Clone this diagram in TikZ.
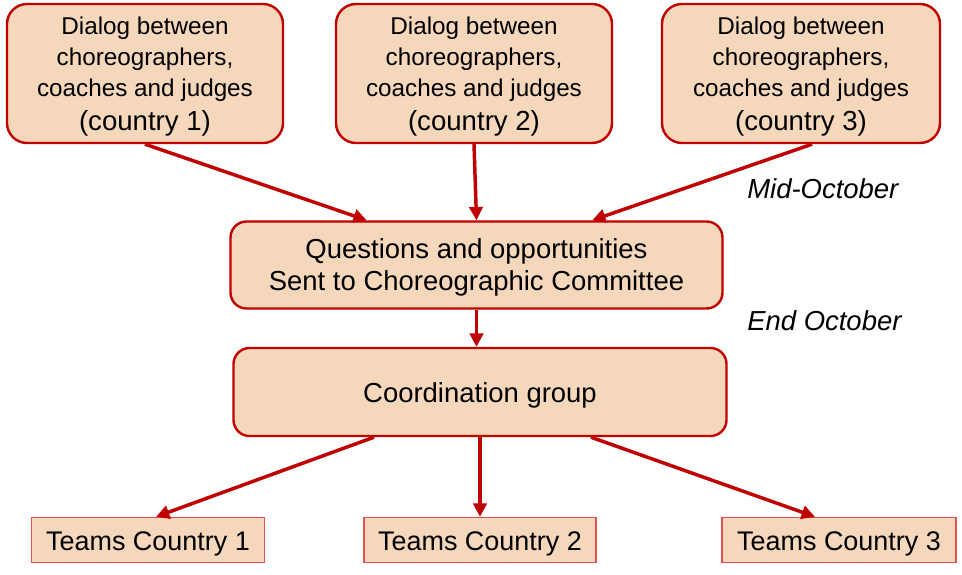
\documentclass[tikz,border=0pt]{standalone}
\usepackage{fontspec}
\setmainfont{Liberation Sans}
\usetikzlibrary{arrows.meta,calc}
\definecolor{boxfill}{HTML}{F5D7BB}
\definecolor{darkred}{HTML}{C00000}
\definecolor{lightred}{HTML}{E05050}
\tikzset{
  topbox/.style={draw=darkred,line width=1.8pt,fill=boxfill,rounded corners=15pt,
    minimum width=276*0.75pt,minimum height=139*0.75pt,align=center,inner sep=0pt,
    text height=86.25pt,text depth=0pt,
    font=\fontsize{18.2pt}{23.25pt}\selectfont},
  midbox/.style={draw=darkred,line width=1.8pt,fill=boxfill,rounded corners=12pt,
    minimum width=492*0.75pt,minimum height=87*0.75pt,align=center,inner sep=0pt,
    font=\fontsize{20.6pt}{24.5pt}\selectfont},
  teambox/.style={draw=lightred,line width=1.1pt,fill=boxfill,
    minimum width=233*0.75pt,minimum height=45*0.75pt,inner sep=0pt,
    text height=15pt,text depth=0pt,
    font=\fontsize{20.2pt}{24pt}\selectfont},
  datelabel/.style={anchor=west,inner sep=0pt,font=\fontsize{20.6pt}{24pt}\selectfont\itshape},
  flow/.style={draw=darkred,line width=2.6pt,-{Triangle[length=10pt,width=10pt]}},
}
\newcommand{\bigc}[1]{{\fontsize{20.7pt}{24pt}\selectfont #1}}
\begin{document}
\begin{tikzpicture}[x=0.75pt,y=-0.75pt]
\useasboundingbox (0,0) rectangle (962,574);
\node[topbox] (t1) at (145,73.5) {Dialog between\\choreographers,\\coaches and judges\\[2.6pt]\bigc{(country 1)}};
\node[topbox] (t2) at (474,73.5) {Dialog between\\choreographers,\\coaches and judges\\[2.6pt]\bigc{(country 2)}};
\node[topbox,minimum width=278*0.75pt] (t3) at (801,73.5) {Dialog between\\choreographers,\\coaches and judges\\[2.6pt]\bigc{(country 3)}};
\node[midbox,text height=38.55pt,text depth=0pt] (m1) at (476.5,265) {Questions and opportunities\\Sent to Choreographic Committee};
\node[midbox,minimum width=493*0.75pt,minimum height=88*0.75pt,text height=15.45pt,text depth=0pt] (m2) at (480,392) {Coordination group};
\node[teambox] (b1) at (148,540) {Teams Country 1};
\node[teambox,minimum width=232*0.75pt] (b2) at (480,540) {Teams Country 2};
\node[teambox,minimum width=234*0.75pt] (b3) at (839,540) {Teams Country 3};
\node[datelabel] (d1) at (747,189) {Mid-October};
\node[datelabel] (d2) at (747,321) {End October};
\draw[flow] (t1.south) -- ($(m1.north west)!0.278!(m1.north east)$);
\draw[flow] (t2.south) -- (m1.north);
\draw[flow] ($(t3.south)+(11,0)$) -- ($(m1.north west)!0.734!(m1.north east)$);
\draw[flow] (m1.south) -- (m1.south |- m2.north);
\draw[flow] ($(m2.south west)!0.286!(m2.south east)$) -- ($(b1.north)+(8,0)$);
\draw[flow] (m2.south) -- (b2.north);
\draw[flow] ($(m2.south west)!0.724!(m2.south east)$) -- ($(b3.north)+(-24,0)$);
\end{tikzpicture}
\end{document}
